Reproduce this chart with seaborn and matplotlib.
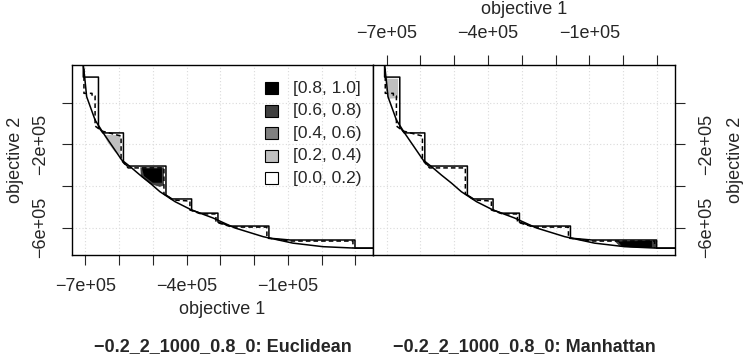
import numpy as np
import matplotlib
matplotlib.use("Agg")
import matplotlib.pyplot as plt
import seaborn as sns
from matplotlib.patches import Rectangle

# --- Data (in units of 1e5) ---
# attainment surfaces, identical in both panels
best_x = np.array([-7.06, -7.06, -7.01, -6.96, -6.71, -6.47, -5.92, -5.67, -5.38, -5.08,
                   -4.79, -4.34, -3.85, -3.22, -2.57, -1.73, -0.85, 0.04, 0.99, 1.70]) * 1e5
best_y = np.array([2.00, 1.81, 1.09, 0.29, -0.83, -1.45, -2.75, -3.07, -3.47, -3.86,
                   -4.27, -4.75, -5.15, -5.53, -6.01, -6.43, -6.74, -6.91, -6.98, -6.98]) * 1e5

worst_x = np.array([-7.06, -7.06, -6.61, -6.61, -6.48, -5.87, -5.87, -5.76, -4.61, -4.61,
                    -4.43, -3.85, -3.85, -3.60, -3.07, -3.07, -2.71, -1.56, -1.56, -0.93,
                    0.99, 0.99, 1.70]) * 1e5
worst_y = np.array([2.00, 1.23, 1.23, -1.17, -1.45, -1.45, -2.85, -3.04, -3.04, -4.43,
                    -4.62, -4.62, -5.15, -5.30, -5.30, -5.73, -5.92, -5.92, -6.50, -6.59,
                    -6.59, -6.98, -6.98]) * 1e5

median_x = np.array([-7.04, -7.04, -6.80, -6.80, -6.71, -6.71, -6.51, -5.94, -5.94, -5.73,
                     -4.67, -4.67, -4.40, -3.90, -3.90, -3.57, -3.13, -3.13, -2.65, -1.62,
                     -1.62, -0.88, 0.93, 0.93]) * 1e5
median_y = np.array([2.00, 0.45, 0.45, 0.32, 0.32, -1.12, -1.36, -1.60, -2.75, -3.13,
                     -3.13, -4.38, -4.67, -4.72, -5.15, -5.34, -5.34, -5.73, -5.97, -5.97,
                     -6.50, -6.64, -6.64, -6.98]) * 1e5

# shaded difference regions, Euclidean panel
eu_light_x = np.array([-6.45, -5.96, -5.96, -6.12, -6.33]) * 1e5
eu_light_y = np.array([-1.55, -1.55, -2.51, -2.37, -1.93]) * 1e5
eu_dark_x = np.array([-5.37, -4.67, -4.67, -4.79, -5.08, -5.35]) * 1e5
eu_dark_y = np.array([-3.10, -3.10, -3.97, -4.04, -3.90, -3.55]) * 1e5
eu_black_x = np.array([-5.32, -4.73, -4.73, -5.00, -5.26]) * 1e5
eu_black_y = np.array([-3.16, -3.16, -3.84, -3.84, -3.52]) * 1e5

# shaded difference regions, Manhattan panel
mh_light_x = np.array([-7.03, -6.66, -6.66, -6.95, -7.02]) * 1e5
mh_light_y = np.array([1.15, 1.15, 0.22, 0.19, 0.60]) * 1e5
mh_dark_x = np.array([-0.25, 0.97, 0.97, 0.30, -0.10]) * 1e5
mh_dark_y = np.array([-6.65, -6.61, -6.97, -6.95, -6.90]) * 1e5
mh_black_x = np.array([-0.15, 0.85, 0.85, 0.20, -0.05]) * 1e5
mh_black_y = np.array([-6.66, -6.63, -6.95, -6.93, -6.88]) * 1e5

legend_labels = ["[0.8, 1.0]", "[0.6, 0.8)", "[0.4, 0.6)", "[0.2, 0.4)", "[0.0, 0.2)"]
legend_colors = ["#000000", "#404040", "#808080", "#bfbfbf", "#ffffff"]

x_ticks = np.arange(-7, 2) * 1e5
x_ticklabels = ["\u22127e+05", "", "", "\u22124e+05", "", "", "\u22121e+05", "", ""]
y_ticks = np.array([0, -2, -4, -6]) * 1e5
y_ticklabels = ["", "\u22122e+05", "", "\u22126e+05"]

titles = ["\u22120.2_2_1000_0.8_0: Euclidean", "\u22120.2_2_1000_0.8_0: Manhattan"]

# --- Style ---
sns.set_style("white")
plt.rcParams['font.family'] = ['Liberation Sans', 'DejaVu Sans']
FS = 13

fig = plt.figure(figsize=(7.47, 3.58), dpi=100)
W, H = 747, 358
ax_l = fig.add_axes([72 / W, 103 / H, 301.3 / W, 190 / H])
ax_r = fig.add_axes([373.3 / W, 103 / H, 301.7 / W, 190 / H])

shades = [
    [(eu_light_x, eu_light_y, "#bfbfbf"), (eu_dark_x, eu_dark_y, "#404040"),
     (eu_black_x, eu_black_y, "#000000")],
    [(mh_light_x, mh_light_y, "#bfbfbf"), (mh_dark_x, mh_dark_y, "#404040"),
     (mh_black_x, mh_black_y, "#000000")],
]

for ax, panel_shades in zip([ax_l, ax_r], shades):
    for px, py, col in panel_shades:
        ax.fill(px, py, color=col, lw=0, zorder=1)
    sns.lineplot(x=best_x, y=best_y, sort=False, estimator=None, color="black",
                 lw=1.1, ax=ax, zorder=3)
    sns.lineplot(x=worst_x, y=worst_y, sort=False, estimator=None, color="black",
                 lw=1.1, ax=ax, zorder=3)
    sns.lineplot(x=median_x, y=median_y, sort=False, estimator=None, color="black",
                 lw=1.1, ax=ax, zorder=3)
    ax.lines[-1].set_linestyle((0, (3, 2)))

    ax.set_xlim(-7.394e5, 1.533e5)
    ax.set_ylim(-7.31e5, 1.81e5)
    ax.set_xticks(x_ticks)
    ax.set_yticks(y_ticks)
    ax.grid(True, color="#dadada", ls=(0, (1, 2)), lw=0.8)
    ax.set_axisbelow(True)
    for s in ax.spines.values():
        s.set_color("black")
        s.set_linewidth(1.0)
    ax.set_xlabel("")
    ax.set_ylabel("")

# left panel: ticks bottom/left
ax_l.set_xticklabels(x_ticklabels, fontsize=FS)
ax_l.set_yticklabels(y_ticklabels, fontsize=FS, rotation=90, va="center")
ax_l.tick_params(axis="both", direction="out", length=7.5, width=0.8, pad=9,
                 bottom=True, left=True, top=False, right=False)

# right panel: ticks top/right
ax_r.xaxis.tick_top()
ax_r.yaxis.tick_right()
ax_r.set_xticklabels(x_ticklabels, fontsize=FS)
ax_r.set_yticklabels(y_ticklabels, fontsize=FS, rotation=90, va="center")
ax_r.tick_params(axis="both", direction="out", length=7.5, width=0.8, pad=9,
                 bottom=False, left=False, top=True, right=True)

# legend drawn inside left panel
for i, (lab, col) in enumerate(zip(legend_labels, legend_colors)):
    yc = 1 - (88.3 + i * 22.5 - 65) / 190
    ax_l.add_patch(Rectangle(((265 - 72) / 301.3, yc - 6 / 190), 13 / 301.3, 12 / 190,
                             transform=ax_l.transAxes, facecolor=col, edgecolor="black",
                             lw=0.8, zorder=5))
    ax_l.text((293 - 72) / 301.3, yc, lab, transform=ax_l.transAxes, fontsize=12.5,
              va="center", ha="left", zorder=5)

# axis labels and titles
fig.text(222.5 / W, 1 - 309 / H, "objective 1", fontsize=FS, ha="center", va="center")
fig.text(524 / W, 1 - 10 / H, "objective 1", fontsize=FS, ha="center", va="center")
fig.text(15 / W, 1 - 160 / H, "objective 2", fontsize=FS, ha="center", va="center", rotation=90)
fig.text(735 / W, 1 - 160 / H, "objective 2", fontsize=FS, ha="center", va="center", rotation=90)
fig.text(222.5 / W, 1 - 347 / H, titles[0], fontsize=FS, fontweight="bold", ha="center", va="center")
fig.text(524 / W, 1 - 347 / H, titles[1], fontsize=FS, fontweight="bold", ha="center", va="center")

fig.savefig("out.png", dpi=100)
